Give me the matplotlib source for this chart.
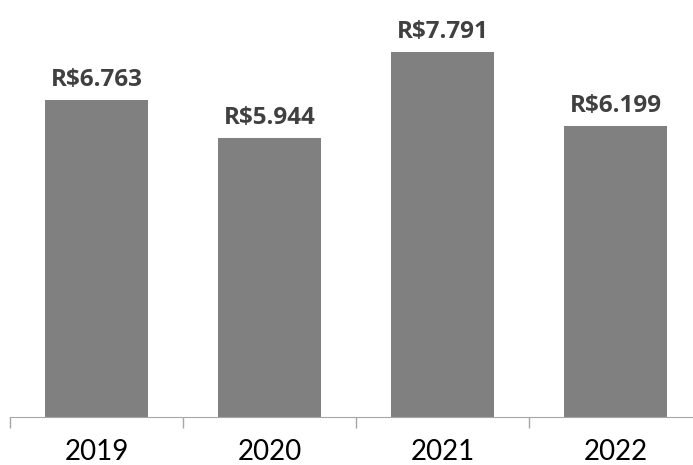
import numpy as np
import matplotlib.pyplot as plt

plt.rcParams['font.family'] = ['Lato', 'DejaVu Sans']

anos = ['2019', '2020', '2021', '2022']
valores = [6763, 5944, 7791, 6199]
rotulos = ['R$6.763', 'R$5.944', 'R$7.791', 'R$6.199']

fig = plt.figure(figsize=(6.93, 4.65), dpi=100)
# eixo vai além da borda direita, como no original
ax = fig.add_axes([10 / 693, 48 / 465, 692 / 693, 417 / 465])

x = np.arange(len(anos))
barras = ax.bar(x, valores, width=0.6, color='#808080')

for b, r in zip(barras, rotulos):
    ax.annotate(r, (b.get_x() + b.get_width() / 2, b.get_height()),
                xytext=(0, 6), textcoords='offset points',
                ha='center', va='bottom', fontsize=17.5, fontweight='bold',
                color='#404040', family=['Open Sans', 'DejaVu Sans'])

ax.set_xlim(-0.5, 3.5)
ax.set_ylim(0, 8897)
ax.set_xticks(x)
ax.set_xticklabels(anos, fontsize=20, color='black')
ax.tick_params(axis='x', which='major', length=0, pad=16)
ax.set_xticks(np.arange(-0.5, 4, 1), minor=True)
ax.tick_params(axis='x', which='minor', length=8, color='#a6a6a6', width=1)
ax.set_yticks([])
for s in ['top', 'right', 'left']:
    ax.spines[s].set_visible(False)
ax.spines['bottom'].set_color('#a6a6a6')

fig.savefig('out.png', dpi=100)
